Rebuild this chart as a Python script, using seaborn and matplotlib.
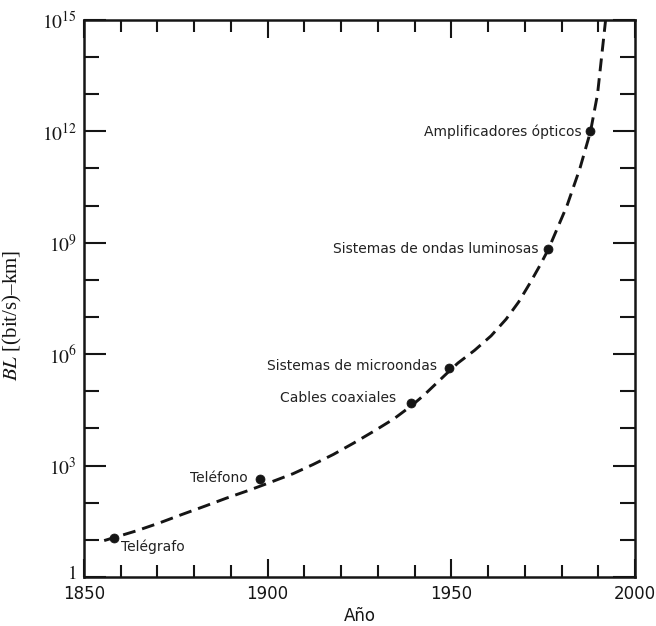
import matplotlib
matplotlib.use("Agg")
import matplotlib.pyplot as plt
import matplotlib.ticker as mticker
import matplotlib.transforms as mtransforms
import matplotlib.image as mimage
import pandas as pd
import seaborn as sns

# ---- data ----
curve_years = [1855.5, 1864.2, 1870.4, 1876.6, 1883.0, 1888.7, 1894.8, 1899.7, 1906.9,
               1912.4, 1917.9, 1923.5, 1929.0, 1934.4, 1939.4, 1942.6, 1949.5, 1951.8,
               1956.3, 1960.8, 1964.9, 1968.3, 1971.4, 1974.3, 1976.5, 1981.5, 1985.0,
               1987.9, 1989.8, 1990.9, 1992.0]
curve_log_bl = [0.98, 1.24, 1.45, 1.68, 1.91, 2.12, 2.33, 2.51, 2.78,
                3.03, 3.30, 3.61, 3.93, 4.26, 4.63, 4.90, 5.55, 5.76,
                6.10, 6.49, 6.94, 7.40, 7.91, 8.42, 8.84, 10.0, 11.0,
                12.0, 13.0, 14.0, 15.0]

point_labels = ["Telégrafo", "Teléfono", "Cables coaxiales", "Sistemas de microondas",
                "Sistemas de ondas luminosas", "Amplificadores ópticos"]
point_years = [1858.3, 1897.9, 1939.0, 1949.5, 1976.2, 1987.8]
point_log_bl = [1.06, 2.63, 4.68, 5.62, 8.84, 12.0]

ytick_vals = [1, 1e3, 1e6, 1e9, 1e12, 1e15]
ytick_labels = ["$1$", "$10^{3}$", "$10^{6}$", "$10^{9}$", "$10^{12}$", "$10^{15}$"]
xtick_vals = [1850, 1900, 1950, 2000]

# ---- figure ----
sns.set_theme(style="white")
plt.rcParams["font.family"] = ["DejaVu Sans"]
plt.rcParams["mathtext.fontset"] = "stix"
plt.rcParams.update({"xtick.bottom": True, "xtick.top": True,
                     "ytick.left": True, "ytick.right": True,
                     "xtick.direction": "in", "ytick.direction": "in"})

fig = plt.figure(figsize=(6.56, 6.26), dpi=100)
ax = fig.add_axes([0.128, 0.0783, 0.840, 0.890])

curve_df = pd.DataFrame({"year": curve_years, "BL": [10 ** v for v in curve_log_bl]})
pts_df = pd.DataFrame({"year": point_years, "BL": [10 ** v for v in point_log_bl],
                       "label": point_labels})

ink = "#151515"
sns.lineplot(data=curve_df, x="year", y="BL", ax=ax, color=ink, lw=2.1,
             sort=False, estimator=None)
ax.lines[0].set_dashes([4.4, 2.4])
sns.scatterplot(data=pts_df, x="year", y="BL", ax=ax, color=ink, s=42,
                edgecolor=ink, zorder=5)

ax.set_yscale("log")
ax.set_xlim(1850, 2000)
ax.set_ylim(1, 1e15)

# text offsets (points)
offsets = [(5, -6.5, "left"), (-8.5, 0.7, "right"), (-11, 4, "right"),
           (-9, 1.5, "right"), (-6.5, 0, "right"), (-6, 0, "right")]
for lab, xv, yv, (dx, dy, ha) in zip(point_labels, point_years, point_log_bl, offsets):
    ax.annotate(lab, (xv, 10 ** yv), xytext=(dx, dy), textcoords="offset points",
                ha=ha, va="center", fontsize=10, color="#222222")

# ticks
ax.yaxis.set_major_locator(mticker.FixedLocator(ytick_vals))
ax.yaxis.set_major_formatter(mticker.FixedFormatter(ytick_labels))
ax.yaxis.set_minor_locator(mticker.FixedLocator([10.0 ** k for k in range(16) if k % 3]))
ax.yaxis.set_minor_formatter(mticker.NullFormatter())
ax.xaxis.set_major_locator(mticker.FixedLocator(xtick_vals))
ax.xaxis.set_minor_locator(mticker.FixedLocator([y for y in range(1860, 2000, 10) if y % 50]))

ax.xaxis.set_ticks_position("both")
ax.yaxis.set_ticks_position("both")
ax.tick_params(axis="both", which="both", direction="in", top=True, right=True,
               bottom=True, left=True, color=ink, width=1.5)
ax.tick_params(axis="y", which="major", length=16, labelsize=14, pad=5,
               labelcolor=ink)
ax.tick_params(axis="y", which="minor", length=10.5)
ax.tick_params(axis="x", which="major", length=13, labelsize=12, pad=6,
               labelcolor=ink, labelbottom=True, labeltop=False)
ax.tick_params(axis="x", which="minor", length=8.5)

for sp in ax.spines.values():
    sp.set_visible(True)
    sp.set_color(ink)
    sp.set_linewidth(1.8)

ax.set_xlabel("Año", fontsize=12, color=ink, labelpad=3)
ax.set_ylabel(r"$BL$ [(bit/s)–km]", fontsize=15, color=ink,
              family=["Liberation Serif", "DejaVu Serif"])
ax.yaxis.set_label_coords(-0.108, 0.47)

# lift the "1" label slightly, as in the reference
first = ax.yaxis.get_major_ticks()[0].label1
first.set_transform(first.get_transform() +
                    mtransforms.ScaledTranslation(0, 5 / 100, fig.dpi_scale_trans))

fig.savefig("out.png", dpi=100)

# sanity check: bottom minor tick at 1860 should leave dark pixels
img = mimage.imread("out.png")
col = img[560:575, 118:124, :3].mean(axis=2)
if col.min() > 0.5:
    t = ax.xaxis.get_minor_ticks()[0]
    raise RuntimeError(f"bottom tick missing: vis={t.tick1line.get_visible()} "
                       f"ms={t.tick1line.get_markersize()} marker={t.tick1line.get_marker()} "
                       f"color={t.tick1line.get_color()} shape={img.shape}")
